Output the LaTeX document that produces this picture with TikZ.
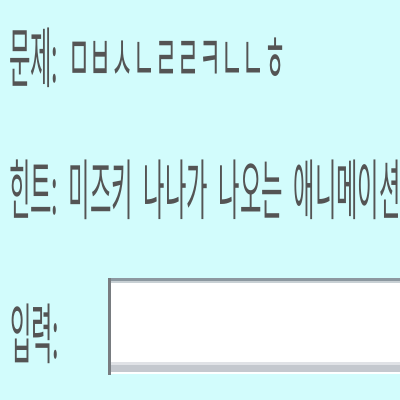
\documentclass[tikz,border=0pt]{standalone}
\usepackage{fontspec}
\newfontfamily\kr{Noto Sans CJK KR}
\definecolor{bg}{RGB}{210,252,252}
\definecolor{txt}{RGB}{84,84,84}
\definecolor{topline}{RGB}{140,152,160}
\definecolor{topline2}{RGB}{200,208,212}
\definecolor{leftline}{RGB}{120,124,128}
\definecolor{botline}{RGB}{196,200,206}
\definecolor{botline2}{RGB}{224,226,230}
\newcommand\krtext{\kr\fontsize{66}{70}\selectfont}
\newcommand\wsp{\hspace{30pt}}
\begin{document}
\begin{tikzpicture}[x=1pt,y=-1pt,
  lbl/.style={inner sep=0pt, anchor=base west, text=txt, font=\krtext, xscale=0.353}]
\useasboundingbox (0,0) rectangle (400,400);
\fill[bg] (0,0) rectangle (400,400);
% input box
\fill[white] (108,278) rectangle (402,374);
\fill[topline] (108,278) rectangle (402,281);
\fill[topline2] (108,281) rectangle (402,283);
\fill[botline] (108,365) rectangle (402,372);
\fill[botline2] (108,362) rectangle (402,365);
\fill[leftline] (108,278) rectangle (111,375);
\node[lbl] (q) at (9,82) {문제:};
\node[lbl, xscale=1.02] (qv) at (68,82) {ㅁㅂㅅㄴㄹㄹㅋㄴㄴㅎ};
\node[lbl] (h) at (9,214) {힌트:\wsp 미즈키\wsp 나나가\wsp 나오는\wsp 애니메이션};
\node[lbl] (in) at (10,358) {입력:};
\end{tikzpicture}
\end{document}
